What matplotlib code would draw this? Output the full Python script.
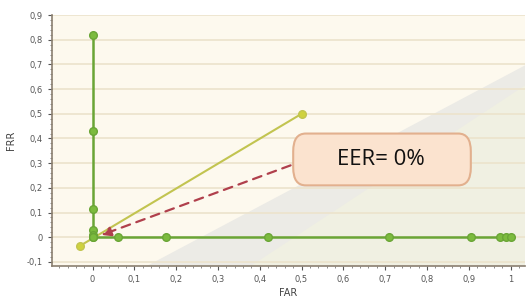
import numpy as np
import matplotlib.pyplot as plt
from matplotlib.patches import Polygon, FancyBboxPatch
from matplotlib.ticker import MultipleLocator, FuncFormatter

# ROC-like curve data (FAR, FRR)
far_vert = [0, 0, 0, 0, 0, 0]
frr_vert = [0.82, 0.43, 0.115, 0.03, 0.01, 0.0]
far_horiz = [0, 0.06, 0.175, 0.42, 0.71, 0.905, 0.975, 0.99, 1.0]
frr_horiz = [0, 0, 0, 0, 0, 0, 0, 0, 0]

# EER diagonal
diag_x = [-0.03, 0.5]
diag_y = [-0.035, 0.5]

# annotation
eer_label = 'EER= 0%'
eer_point = (0.015, 0.005)
box_anchor = (0.48, 0.295)

fig = plt.figure(figsize=(5.31, 3.02), dpi=100)
ax = fig.add_axes([0.098, 0.119, 0.891, 0.831])
ax.set_xlim(-0.097, 1.035)
ax.set_ylim(-0.117, 0.9)
ax.set_facecolor('#fdf9ee')

# background decoration (grey wedge, lower right)
ax.add_patch(Polygon([(0.2, 0), (1, 0.8), (1, 0)], closed=True, transform=ax.transAxes,
                     facecolor='#ecebe6', edgecolor='none', zorder=0))
ax.add_patch(Polygon([(0.42, 0), (1, 0.72), (1, 0)], closed=True, transform=ax.transAxes,
                     facecolor='#f0f0e2', edgecolor='none', zorder=0))

ax.yaxis.set_major_locator(MultipleLocator(0.1))
ax.xaxis.set_major_locator(MultipleLocator(0.1))
ax.yaxis.set_minor_locator(MultipleLocator(0.02))
ax.xaxis.set_minor_locator(MultipleLocator(0.02))
ax.set_xticks(np.round(np.arange(0, 1.01, 0.1), 1))
ax.grid(axis='y', color='#ece3cc', linewidth=1.2, zorder=0.5)
ax.set_axisbelow(True)

fmt = FuncFormatter(lambda v, p: ('%g' % round(v, 2)).replace('.', ','))
ax.xaxis.set_major_formatter(fmt)
ax.yaxis.set_major_formatter(fmt)
ax.tick_params(labelsize=6, colors='#555555', length=3, width=0.8)
ax.tick_params(which='minor', length=1.5, color='#777777')

for s in ['top', 'right']:
    ax.spines[s].set_visible(False)
for s in ['left', 'bottom']:
    ax.spines[s].set_color('#8a7f70')
    ax.spines[s].set_linewidth(1.2)

ax.set_xlabel('FAR', fontsize=7, color='#444444', labelpad=3)
ax.set_ylabel('FRR', fontsize=7, color='#444444', labelpad=8)

# diagonal line
ax.plot(diag_x, diag_y, color='#c2c450', linewidth=1.5, marker='o', markersize=5.5,
        markerfacecolor='#cfd23e', markeredgecolor='#c2c450', zorder=3)

# curve
ax.plot(far_vert, frr_vert, color='#6aa536', linewidth=1.8, marker='o', markersize=5.5,
        markerfacecolor='#7cbb3e', markeredgecolor='#6aa536', zorder=4)
ax.plot(far_horiz, frr_horiz, color='#6aa536', linewidth=1.8, marker='o', markersize=5.5,
        markerfacecolor='#7cbb3e', markeredgecolor='#6aa536', zorder=4)

# dashed arrow to EER point
ax.annotate('', xy=eer_point, xytext=box_anchor,
            arrowprops=dict(arrowstyle='-|>', color='#b0404c', linestyle=(0, (4, 3)),
                            linewidth=1.6, mutation_scale=14), zorder=5)

# text box
box = FancyBboxPatch((0.48, 0.21), 0.425, 0.21, boxstyle='round,pad=0,rounding_size=0.03',
                     transform=ax.transData, facecolor='#fbe3cf', edgecolor='#e2b08e',
                     linewidth=1.5, zorder=6, mutation_aspect=2.4)
ax.add_patch(box)
ax.text(0.69, 0.315, eer_label, fontsize=16, family='Open Sans', color='#111111',
        ha='center', va='center', zorder=7)

fig.savefig('out.png', dpi=100, facecolor='white')
